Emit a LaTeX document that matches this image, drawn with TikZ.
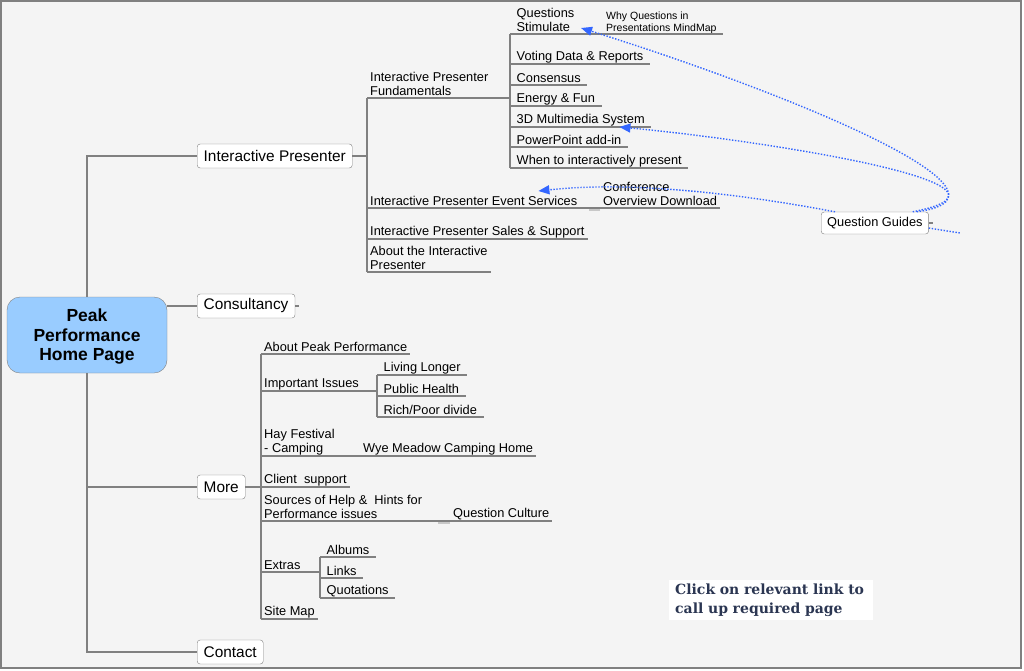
\documentclass[tikz,border=0pt]{standalone}
\usepackage{fontspec}
\setmainfont{Liberation Sans}
\newfontfamily\notefont{DejaVu Serif}
\usetikzlibrary{arrows.meta}
\definecolor{bgcol}{RGB}{244,244,244}
\definecolor{wiregray}{RGB}{128,128,128}
\definecolor{stubgray}{RGB}{200,200,200}
\definecolor{rootblue}{RGB}{153,204,255}
\definecolor{linkblue}{RGB}{51,102,255}
\definecolor{notenavy}{RGB}{43,54,82}
\newcommand\tstrut{\rule[-2pt]{0pt}{9pt}}

\begin{document}
\begin{tikzpicture}[x=1pt, y=-1pt,
    wire/.style={draw=wiregray, line width=1.2pt},
    stub/.style={draw=stubgray, line width=2pt},
    topic/.style={anchor=south west, align=left, inner xsep=3pt, inner ysep=0.5pt, font=\fontsize{12.8}{14}\selectfont, execute at end node=\tstrut},
    sub/.style={topic, inner xsep=6.5pt},
    box/.style={draw=wiregray, fill=white, rounded corners=3pt, anchor=west, inner xsep=6.5pt, minimum height=24pt, font=\fontsize{15.4}{18}\selectfont},
    root/.style={draw=wiregray, fill=rootblue, rounded corners=13pt, minimum width=160pt, minimum height=76pt, align=center, font=\bfseries\fontsize{17.5}{19.5}\selectfont},
    rel/.style={draw=linkblue, line width=1.4pt, dash pattern=on 1.4pt off 1.6pt},
    link/.style={rel, -{Triangle[length=11pt,width=9pt]}},
    note/.style={anchor=west, fill=white, text width=192pt, align=left, inner xsep=6pt, inner ysep=4pt, text=notenavy, font=\notefont\bfseries\fontsize{14}{19}\selectfont}
]
\useasboundingbox (0,0) rectangle (1024,670);
\draw[fill=bgcol, draw=wiregray, line width=2pt] (1,1) rectangle (1021,668);

\node[root] (root) at (87,335) {};
\node[align=center, font=\bfseries\fontsize{17.5}{19.5}\selectfont] (roottext) at (87,337) {Peak\\Performance\\Home Page};
\node[box] (ip) at (197,156) {Interactive Presenter};
\node[box] (consul) at (197,306) {Consultancy};
\node[box] (more) at (197,487) {More};
\node[box] (contact) at (197,652) {Contact};
\node[box, inner xsep=6pt, minimum height=22pt, font=\fontsize{12.8}{14}\selectfont] (qg) at (821,223) {Question Guides};

\node[topic] (fund) at (367,98) {Interactive Presenter\\Fundamentals};
\node[topic] (evs) at (367,208) {Interactive Presenter Event Services};
\node[topic] (conf) at (600,208) {Conference\\Overview Download};
\node[topic] (sales) at (367,239) {Interactive Presenter Sales \& Support};
\node[topic] (aboutip) at (367,272) {About the Interactive\\Presenter};

\node[sub] (qs) at (510,34) {Questions\\Stimulate};
\node[sub, inner xsep=6pt, font=\fontsize{10.5}{12}\selectfont] (why) at (600,34) {Why Questions in\\Presentations MindMap};
\node[sub] (vote) at (510,64) {Voting Data \& Reports};
\node[sub] (consen) at (510,85) {Consensus};
\node[sub] (fun) at (510,106) {Energy \& Fun};
\node[sub] (md) at (510,127) {3D Multimedia System};
\node[sub] (ppt) at (510,147) {PowerPoint add-in};
\node[sub] (when) at (510,168) {When to interactively present};

\node[topic] (app) at (261,354) {About Peak Performance};
\node[topic] (iss) at (261,391) {Important Issues};
\node[sub] (live) at (377,375) {Living Longer};
\node[sub] (health) at (377,396) {Public Health};
\node[sub] (rich) at (377,417) {Rich/Poor divide};
\node[topic] (hay) at (261,456) {Hay Festival\\- Camping};
\node[topic] (wye) at (360,456) {Wye Meadow Camping Home};
\node[topic] (client) at (261,487) {Client\ \ support};
\node[topic] (src) at (261,521) {Sources of Help \&\ \ Hints for\\Performance issues};
\node[topic] (qc) at (450,521) {Question Culture};
\node[topic] (extras) at (261,572) {Extras};
\node[sub] (albums) at (320,557) {Albums};
\node[sub] (links) at (320,578) {Links};
\node[sub] (quot) at (320,598) {Quotations};
\node[topic] (site) at (261,619) {Site Map};

\node[note] (note) at (669,600) {Click on relevant link to\\call up required page};

\draw[wire] (ip.west) -| (root.north);
\draw[wire] (consul.west -| root.east) -- (consul.west);
\draw[wire] (root.south) |- (more.west);
\draw[wire] (root.south) |- (contact.west);
\draw[wire] (consul.east) -- ++(4,0);
\draw[wire] (qg.east) -- ++(4,0);

\draw[wire] (ip.east) -- (ip.east -| fund.south west);
\draw[wire] (fund.south west) -- (aboutip.south west);
\draw[wire] (fund.south west) -- (fund.south west -| qs.south west);
\draw[wire] (evs.south west) -- (conf.south west);
\draw[wire] (qs.south west) -- (when.south west);
\draw[wire] (qs.south west) -- (why.south west);
\foreach \n in {conf,sales,aboutip,why,vote,consen,fun,md,ppt,when}
    \draw[wire] (\n.south west) -- (\n.south east);

\draw[wire] (more.east) -- (more.east -| app.south west);
\draw[wire] (app.south west) -- (site.south west);
\draw[wire] (iss.south west) -- (iss.south west -| live.south west);
\draw[wire] (live.south west) -- (rich.south west);
\draw[wire] (hay.south west) -- (wye.south west);
\draw[wire] (src.south west) -- (qc.south west);
\draw[wire] (extras.south west) -- (extras.south west -| albums.south west);
\draw[wire] (albums.south west) -- (quot.south west);
\foreach \n in {app,live,health,rich,wye,client,qc,albums,links,quot,site}
    \draw[wire] (\n.south west) -- (\n.south east);
\draw[stub] ([yshift=-1.5pt]conf.south west) -- ++(-11,0);
\draw[stub] ([yshift=-1.5pt]qc.south west) -- ++(-12,0);

\coordinate (qgend) at (960,233);
\draw[link] ([xshift=-12pt]qg.north east) .. controls (1040,195) and (780,90) .. ([yshift=6pt]qs.south east);
\draw[link] ([xshift=-16pt]qg.north east) .. controls (1050,185) and (760,140) .. ([xshift=-32pt]md.south east);
\draw[link] ([xshift=14pt]qg.north west) .. controls (720,190) and (620,182) .. ([xshift=-42pt,yshift=17pt]evs.south east);
\draw[rel] ([yshift=-5pt]qg.east) -- (qgend);
\end{tikzpicture}
\end{document}
